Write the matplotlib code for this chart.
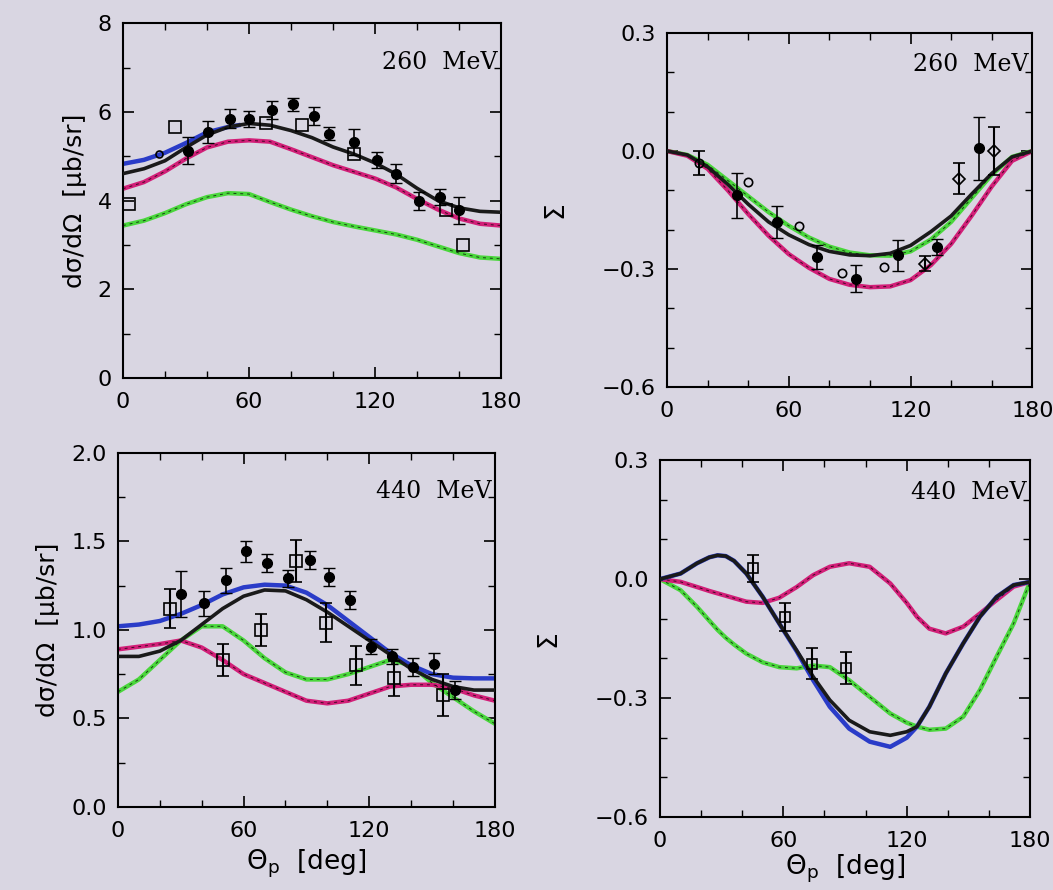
import matplotlib
matplotlib.use("Agg")
import matplotlib.pyplot as plt
from matplotlib.ticker import MultipleLocator

BG = "#d9d6e2"
C_BLUE = "#2a3cc8"
C_MAG = "#d21f78"
C_GREEN = "#4ad63c"
C_BLACK = "#1a1a1a"

# ── 260 MeV cross section ──
xs260 = [0, 10, 20, 30, 40, 50, 60, 70, 80, 90, 100, 110, 120, 130, 140, 150, 160, 170, 180]
cs260_black = [4.61, 4.72, 4.90, 5.20, 5.48, 5.66, 5.74, 5.70, 5.58, 5.42, 5.21, 5.05, 4.85, 4.60, 4.28, 4.00, 3.84, 3.76, 3.74]
cs260_blue_x = [0, 10, 20, 30, 40, 50, 55]
cs260_blue = [4.83, 4.92, 5.08, 5.30, 5.54, 5.66, 5.70]
cs260_mag = [4.27, 4.42, 4.66, 4.95, 5.20, 5.33, 5.36, 5.33, 5.16, 4.98, 4.80, 4.65, 4.50, 4.30, 4.04, 3.80, 3.60, 3.48, 3.44]
cs260_green = [3.44, 3.55, 3.72, 3.92, 4.08, 4.17, 4.15, 3.97, 3.80, 3.65, 3.52, 3.42, 3.33, 3.24, 3.12, 2.97, 2.82, 2.72, 2.69]

cs260_dots_x = [31, 40.5, 51, 60, 71, 81, 91, 98, 110, 121, 130, 141, 151, 160]
cs260_dots_y = [5.13, 5.55, 5.85, 5.85, 6.04, 6.17, 5.90, 5.51, 5.32, 4.91, 4.61, 4.00, 4.08, 3.78]
cs260_dots_e = [0.30, 0.25, 0.22, 0.18, 0.20, 0.15, 0.20, 0.15, 0.30, 0.18, 0.22, 0.20, 0.18, 0.30]
cs260_sq_x = [3, 24.6, 68, 85, 110, 154, 162]
cs260_sq_y = [3.93, 5.65, 5.74, 5.70, 5.06, 3.78, 3.00]
cs260_circ_x = [17]
cs260_circ_y = [5.06]

# ── 260 MeV beam asymmetry ──
sx260 = [0, 10, 20, 30, 40, 50, 60, 70, 80, 90, 100, 110, 120, 130, 140, 150, 160, 170, 180]
sg260_black = [0.0, -0.010, -0.040, -0.085, -0.135, -0.180, -0.213, -0.238, -0.255, -0.264, -0.266, -0.260, -0.240, -0.205, -0.165, -0.110, -0.057, -0.015, 0.0]
sg260_mag = [0.0, -0.012, -0.045, -0.100, -0.160, -0.215, -0.262, -0.297, -0.325, -0.340, -0.346, -0.344, -0.328, -0.290, -0.236, -0.165, -0.090, -0.025, 0.0]
sg260_green = [0.0, -0.010, -0.035, -0.075, -0.115, -0.155, -0.190, -0.220, -0.243, -0.258, -0.265, -0.266, -0.255, -0.225, -0.180, -0.120, -0.060, -0.015, 0.0]

sg260_dots_x = [34.7, 54, 74, 93, 114, 133, 153.5]
sg260_dots_y = [-0.112, -0.180, -0.270, -0.324, -0.265, -0.244, 0.007]
sg260_dots_e = [0.057, 0.040, 0.030, 0.035, 0.040, 0.020, 0.080]
sg260_open_x = [16, 40, 65, 86, 107]
sg260_open_y = [-0.031, -0.078, -0.190, -0.310, -0.295]
sg260_dia_x = [127, 144, 161]
sg260_dia_y = [-0.286, -0.070, 0.000]
sg260_dia_e = [0.020, 0.040, 0.060]

# ── 440 MeV cross section ──
xs440 = [0, 10, 20, 30, 40, 50, 60, 70, 80, 90, 100, 110, 120, 130, 140, 150, 160, 170, 180]
cs440_blue = [1.02, 1.03, 1.05, 1.09, 1.14, 1.20, 1.24, 1.255, 1.25, 1.21, 1.14, 1.05, 0.96, 0.87, 0.80, 0.75, 0.73, 0.726, 0.726]
cs440_black = [0.85, 0.85, 0.88, 0.94, 1.03, 1.12, 1.19, 1.225, 1.22, 1.17, 1.10, 1.02, 0.94, 0.86, 0.78, 0.72, 0.68, 0.66, 0.66]
cs440_green = [0.65, 0.72, 0.83, 0.94, 1.02, 1.02, 0.94, 0.84, 0.76, 0.72, 0.72, 0.75, 0.79, 0.83, 0.80, 0.70, 0.62, 0.54, 0.47]
cs440_mag = [0.89, 0.905, 0.92, 0.94, 0.90, 0.83, 0.75, 0.70, 0.65, 0.60, 0.585, 0.60, 0.64, 0.68, 0.69, 0.69, 0.67, 0.63, 0.60]

cs440_dots_x = [30, 41, 51.5, 61, 71, 81, 91.5, 101, 111, 121, 131, 141, 151, 161]
cs440_dots_y = [1.20, 1.15, 1.28, 1.443, 1.377, 1.29, 1.396, 1.30, 1.17, 0.906, 0.85, 0.79, 0.81, 0.66]
cs440_dots_e = [0.13, 0.07, 0.07, 0.06, 0.05, 0.05, 0.05, 0.05, 0.05, 0.04, 0.04, 0.05, 0.06, 0.05]
cs440_sq_x = [25, 50, 68.5, 85, 99.5, 113.5, 132, 155]
cs440_sq_y = [1.12, 0.83, 1.00, 1.39, 1.04, 0.80, 0.726, 0.632]
cs440_sq_e = [0.11, 0.09, 0.09, 0.12, 0.11, 0.11, 0.10, 0.12]

# ── 440 MeV beam asymmetry ──
sx440 = [0, 10, 18, 24, 28, 32, 36, 42, 50, 58, 66.5, 74.5, 82.6, 92, 102, 112, 120, 125, 131, 139, 147.5, 155.6, 163.7, 172, 180]
sg440_black = [0.0, 0.014, 0.040, 0.055, 0.060, 0.058, 0.046, 0.014, -0.045, -0.112, -0.180, -0.246, -0.305, -0.356, -0.385, -0.394, -0.385, -0.372, -0.322, -0.238, -0.162, -0.095, -0.045, -0.015, -0.007]
sg440_blue = [0.0, 0.014, 0.040, 0.055, 0.060, 0.058, 0.046, 0.014, -0.045, -0.112, -0.182, -0.255, -0.322, -0.377, -0.410, -0.423, -0.400, -0.372, -0.322, -0.238, -0.162, -0.095, -0.045, -0.015, -0.007]
sg440_mag = [0.0, -0.007, -0.020, -0.030, -0.036, -0.042, -0.048, -0.057, -0.060, -0.047, -0.020, 0.010, 0.031, 0.040, 0.031, -0.011, -0.060, -0.095, -0.125, -0.137, -0.120, -0.087, -0.053, -0.019, -0.007]
sg440_green = [0.0, -0.028, -0.070, -0.105, -0.128, -0.148, -0.165, -0.188, -0.210, -0.222, -0.225, -0.218, -0.222, -0.255, -0.297, -0.339, -0.362, -0.372, -0.380, -0.377, -0.347, -0.280, -0.196, -0.112, -0.007]

sg440_sq_x = [45.4, 61, 74, 90.4]
sg440_sq_y = [0.027, -0.095, -0.213, -0.225]
sg440_sq_e = [0.035, 0.035, 0.040, 0.040]

YLAB = "d\u03c3/d\u03a9  [\u03bcb/sr]"
XLAB = r"$\Theta_{\rm p}$  [deg]"


def styled_line(ax, x, y, color):
    ax.plot(x, y, color=color, lw=3.2, solid_capstyle="round", zorder=2)
    ax.plot(x, y, color="k", lw=0.7, ls=(0, (3, 4)), alpha=0.7, zorder=3)


def setup(ax, ylim, ymajor, yminor, label_text, ty):
    ax.set_facecolor(BG)
    ax.set_xlim(0, 180)
    ax.set_ylim(*ylim)
    ax.xaxis.set_major_locator(MultipleLocator(60))
    ax.xaxis.set_minor_locator(MultipleLocator(20))
    ax.yaxis.set_major_locator(MultipleLocator(ymajor))
    ax.yaxis.set_minor_locator(MultipleLocator(yminor))
    ax.tick_params(which="both", direction="in", top=True, right=True, labelsize=16)
    ax.tick_params(axis="x", pad=10)
    ax.tick_params(axis="y", pad=8)
    ax.tick_params(which="major", length=8, width=1.2)
    ax.tick_params(which="minor", length=5, width=1.0)
    for s in ax.spines.values():
        s.set_linewidth(1.5)
    ax.text(0.99, ty, label_text, transform=ax.transAxes, ha="right", va="center",
            fontsize=17, family="DejaVu Serif")


fig = plt.figure(figsize=(10.53, 8.90), dpi=100)
fig.patch.set_facecolor(BG)

ax1 = fig.add_axes([0.1168, 0.575, 0.359, 0.399])
ax2 = fig.add_axes([0.6334, 0.565, 0.347, 0.398])
ax3 = fig.add_axes([0.112, 0.0933, 0.358, 0.398])
ax4 = fig.add_axes([0.6268, 0.082, 0.3514, 0.401])

# Panel 1
setup(ax1, (0, 8), 2, 1, "260  MeV", 0.89)
styled_line(ax1, xs260, cs260_green, C_GREEN)
styled_line(ax1, xs260, cs260_mag, C_MAG)
ax1.plot(cs260_blue_x, cs260_blue, color=C_BLUE, lw=3.2, zorder=2)
ax1.plot(xs260, cs260_black, color=C_BLACK, lw=2.6, zorder=3)
ax1.errorbar(cs260_dots_x, cs260_dots_y, yerr=cs260_dots_e, fmt="o", color="k", ms=7,
             capsize=4, elinewidth=1.2, zorder=5)
ax1.plot(cs260_sq_x, cs260_sq_y, "s", mfc="none", mec="k", ms=8, mew=1.2, zorder=5)
ax1.plot(cs260_circ_x, cs260_circ_y, "o", mfc="none", mec="k", ms=5, mew=1.2, zorder=5)
ax1.set_ylabel(YLAB, fontsize=18, labelpad=8)

# Panel 2
setup(ax2, (-0.6, 0.3), 0.3, 0.1, "260  MeV", 0.91)
styled_line(ax2, sx260, sg260_green, C_GREEN)
styled_line(ax2, sx260, sg260_mag, C_MAG)
ax2.plot(sx260, sg260_black, color=C_BLACK, lw=2.6, zorder=3)
ax2.errorbar(sg260_dots_x, sg260_dots_y, yerr=sg260_dots_e, fmt="o", color="k", ms=7,
             capsize=4, elinewidth=1.2, zorder=5)
ax2.errorbar(sg260_open_x[:1], sg260_open_y[:1], yerr=[0.03], fmt="o", mfc="none", mec="k",
             ecolor="k", ms=6, mew=1.2, capsize=4, zorder=5)
ax2.plot(sg260_open_x[1:], sg260_open_y[1:], "o", mfc="none", mec="k", ms=6, mew=1.2, zorder=5)
ax2.errorbar(sg260_dia_x, sg260_dia_y, yerr=sg260_dia_e, fmt="D", mfc="none", mec="k",
             ecolor="k", ms=6, mew=1.2, capsize=4, zorder=5)
ax2.set_ylabel("\u03a3", fontsize=19, labelpad=24)

# Panel 3
setup(ax3, (0, 2.0), 0.5, 0.25, "440  MeV", 0.89)
styled_line(ax3, xs440, cs440_green, C_GREEN)
styled_line(ax3, xs440, cs440_mag, C_MAG)
ax3.plot(xs440, cs440_blue, color=C_BLUE, lw=3.2, zorder=2)
ax3.plot(xs440, cs440_black, color=C_BLACK, lw=2.6, zorder=3)
ax3.errorbar(cs440_dots_x, cs440_dots_y, yerr=cs440_dots_e, fmt="o", color="k", ms=7,
             capsize=4, elinewidth=1.2, zorder=5)
ax3.errorbar(cs440_sq_x, cs440_sq_y, yerr=cs440_sq_e, fmt="s", mfc="none", mec="k",
             ecolor="k", ms=8, mew=1.2, capsize=4, zorder=5)
ax3.set_ylabel(YLAB, fontsize=18, labelpad=8)
ax3.set_xlabel(XLAB, fontsize=19, labelpad=5)

# Panel 4
setup(ax4, (-0.6, 0.3), 0.3, 0.1, "440  MeV", 0.91)
styled_line(ax4, sx440, sg440_green, C_GREEN)
styled_line(ax4, sx440, sg440_mag, C_MAG)
ax4.plot(sx440, sg440_blue, color=C_BLUE, lw=3.2, zorder=2)
ax4.plot(sx440, sg440_black, color=C_BLACK, lw=2.6, zorder=3)
ax4.errorbar(sg440_sq_x, sg440_sq_y, yerr=sg440_sq_e, fmt="s", mfc="none", mec="k",
             ecolor="k", ms=7, mew=1.2, capsize=4, zorder=5)
ax4.set_ylabel("\u03a3", fontsize=19, labelpad=24)
ax4.set_xlabel(XLAB, fontsize=19, labelpad=1)

fig.savefig("out.png", dpi=100, facecolor=BG)
